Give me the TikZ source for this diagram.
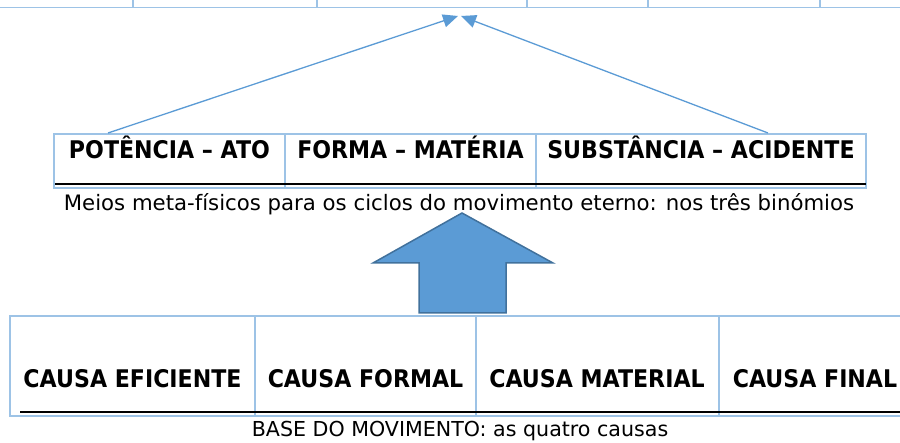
\documentclass[tikz,border=0pt]{standalone}
\usepackage{fontspec}
\setmainfont{DejaVu Sans}[BoldFeatures={FakeStretch=0.91}]
\usetikzlibrary{arrows.meta}
\definecolor{tblblue}{HTML}{9DC3E6}
\definecolor{arrblue}{HTML}{5B9BD5}
\definecolor{arredge}{HTML}{41719C}
\tikzset{
  tbl/.style={draw=tblblue, line width=1.5pt},
  blackrule/.style={draw=black, line width=2pt},
  head/.style={font=\fontsize{24.3}{28}\selectfont\bfseries, anchor=base, inner sep=0pt},
  capone/.style={font=\fontsize{21.25}{25}\selectfont, anchor=base, inner sep=0pt},
  captwo/.style={font=\fontsize{20.6}{24}\selectfont, anchor=base, inner sep=0pt},
  thinarrow/.style={draw=arrblue, line width=1.3pt, -{Triangle[length=15pt,width=13pt]}},
  bigarrow/.style={fill=arrblue, draw=arredge, line width=1.5pt, line join=miter}
}
\begin{document}
\begin{tikzpicture}[x=1pt,y=-1pt]
\useasboundingbox (0,0) rectangle (900,443);
% top table (cut off)
\draw[tbl] (0,7.7) -- (900,7.7);
\foreach \xx in {133,317,527,648,820} \draw[tbl] (\xx,0) -- (\xx,7.7);
% middle table
\draw[tbl] (54,134) rectangle (866,188);
\draw[tbl] (285,134) -- (285,188);
\draw[tbl] (536,134) -- (536,188);
\draw[blackrule] (55,184.3) -- (866,184.3);
\node[head] (pa) at (169.5,159) {POTÊNCIA – ATO};
\node[head] (fm) at (410.5,159) {FORMA – MATÉRIA};
\node[head] (sa) at (701,159) {SUBSTÂNCIA – ACIDENTE};
\node[capone] (cap1) at (459,211) {Meios meta-físicos para os ciclos do movimento eterno: nos três binómios};
% thin arrows
\coordinate (startL) at (108,133);
\coordinate (startR) at (768,133);
\coordinate (tipL) at (458,16);
\coordinate (tipR) at (461,16);
\draw[thinarrow] (startL) -- (tipL);
\draw[thinarrow] (startR) -- (tipR);
% big arrow
\draw[bigarrow] (462,213) -- (553,263) -- (506,263) -- (506,313) -- (419,313) -- (419,263) -- (373,263) -- cycle;
% bottom table
\draw[tbl] (920,316) -- (10,316) -- (10,416) -- (920,416);
\foreach \xx in {255,476,719} \draw[tbl] (\xx,316) -- (\xx,416);
\draw[blackrule] (20,412) -- (900,412);
\node[head] (ce) at (132.5,388) {CAUSA EFICIENTE};
\node[head] (cf) at (365.5,388) {CAUSA FORMAL};
\node[head] (cm) at (597,388) {CAUSA MATERIAL};
\node[head] (cfin) at (815,388) {CAUSA FINAL};
\node[captwo] (cap2) at (460,437) {BASE DO MOVIMENTO: as quatro causas};
\end{tikzpicture}
\end{document}
